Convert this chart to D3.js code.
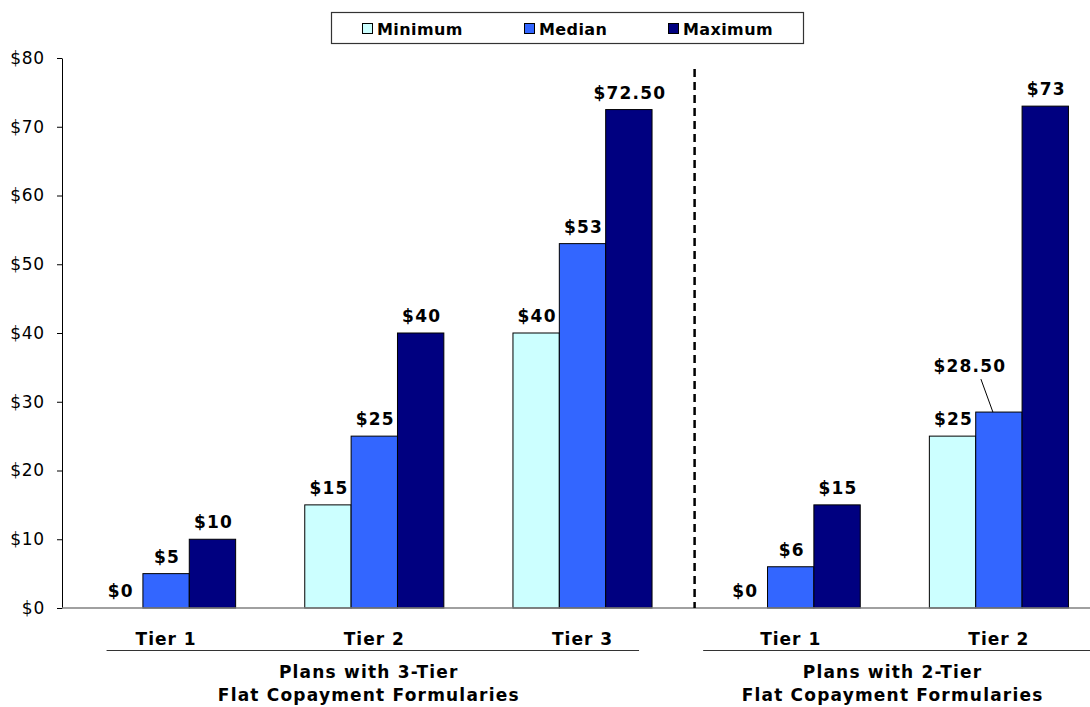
<!DOCTYPE html>
<html>
<head>
<meta charset="utf-8">
<script src="https://cdn.jsdelivr.net/npm/d3@7"></script>
<style>
  html, body { margin: 0; padding: 0; background: #fff; }
  svg { display: block; font-family: "DejaVu Sans", Verdana, sans-serif; }
</style>
</head>
<body>
<svg id="chart" width="1090" height="707"></svg>
<script>
// Copayment tiers (3-tier plans first, then 2-tier plans)
const tiers = ["Tier 1", "Tier 2", "Tier 3", "Tier 1", "Tier 2"];
const seriesNames = ["Minimum", "Median", "Maximum"];
const minimum = [0, 15, 40, 0, 25];
const median = [5, 25, 53, 6, 28.5];
const maximum = [10, 40, 72.5, 15, 73];
const yTicks = [0, 10, 20, 30, 40, 50, 60, 70, 80];
const planGroups = [
  { lines: ["Plans with 3-Tier", "Flat Copayment Formularies"], first: 0, last: 2 },
  { lines: ["Plans with 2-Tier", "Flat Copayment Formularies"], first: 3, last: 4 }
];
const colors = ["#CCFFFF", "#3366FF", "#000080"];

const svg = d3.select("#chart");
const W = 1090;
const plotLeft = 62, plotRight = 1103, plotTop = 58, plotBottom = 608;

const x = d3.scaleBand()
  .domain(d3.range(tiers.length))
  .range([plotLeft, plotRight])
  .paddingInner(0.332)
  .paddingOuter(0.166);

const xs = d3.scaleBand()
  .domain(d3.range(seriesNames.length))
  .range([0, x.bandwidth()]);

const y = d3.scaleLinear().domain([0, 80]).range([plotBottom, plotTop]);

const seriesValues = [minimum, median, maximum];
const fmt = v => Number.isInteger(v) ? "$" + v : "$" + v.toFixed(2);

// y axis
const yAxis = d3.axisLeft(y)
  .tickValues(yTicks)
  .tickFormat(d => "$" + d)
  .tickSize(5)
  .tickSizeOuter(0)
  .tickPadding(12);
const ya = svg.append("g").attr("transform", `translate(${plotLeft},0)`).call(yAxis);
ya.select(".domain").attr("stroke", "#000");
ya.selectAll(".tick line").attr("stroke", "#000");
ya.selectAll(".tick text")
  .attr("fill", "#000")
  .style("font-family", "'DejaVu Sans', Verdana, sans-serif")
  .style("font-size", "17px")
  .style("letter-spacing", "0.8px");

// bars
const bars = [];
tiers.forEach((t, i) => {
  seriesValues.forEach((vals, s) => {
    bars.push({ i, s, v: vals[i] });
  });
});

svg.append("g").selectAll("rect")
  .data(bars)
  .join("rect")
  .attr("x", d => x(d.i) + xs(d.s))
  .attr("y", d => y(d.v))
  .attr("width", xs.bandwidth())
  .attr("height", d => y(0) - y(d.v))
  .attr("fill", d => colors[d.s])
  .attr("stroke", "#000")
  .attr("stroke-width", 1);

// baseline
svg.append("line")
  .attr("x1", plotLeft).attr("x2", W)
  .attr("y1", y(0)).attr("y2", y(0))
  .attr("stroke", "#808080").attr("stroke-width", 1.5);

// value labels; the Tier 2 median of 2-tier plans sits up-left with a leader line
const lbl = svg.append("g")
  .style("font-weight", "bold")
  .style("font-size", "17px")
  .style("letter-spacing", "1.2px")
  .attr("text-anchor", "middle");

bars.forEach(d => {
  const cx = x(d.i) + xs(d.s) + xs.bandwidth() / 2;
  const ty = y(d.v);
  if (d.i === 4 && d.s === 1) {
    const lx = cx - 29, ly = ty - 40;
    lbl.append("text").attr("x", lx).attr("y", ly).text(fmt(d.v));
    svg.append("line")
      .attr("x1", cx - 18).attr("y1", ty - 33)
      .attr("x2", cx - 6).attr("y2", ty)
      .attr("stroke", "#000").attr("stroke-width", 1);
  } else {
    lbl.append("text").attr("x", cx + 1).attr("y", ty - 11).text(fmt(d.v));
  }
});

// divider between plan types
const divX = x(3) - (x.step() - x.bandwidth()) / 2 + 8;
svg.append("line")
  .attr("x1", divX).attr("x2", divX)
  .attr("y1", 69).attr("y2", plotBottom)
  .attr("stroke", "#000").attr("stroke-width", 2.5)
  .attr("stroke-dasharray", "8,5");

// tier labels
svg.append("g").selectAll("text")
  .data(tiers)
  .join("text")
  .attr("x", (d, i) => x(i) + x.bandwidth() / 2)
  .attr("y", 645)
  .attr("text-anchor", "middle")
  .style("font-weight", "bold")
  .style("font-size", "17px")
  .style("letter-spacing", "1px")
  .text(d => d);

// plan group rules and labels
planGroups.forEach((g, gi) => {
  const x1 = gi === 0 ? x(g.first) + 10 : x(g.first) - 18;
  const x2 = gi === 0 ? x(g.last) + x.bandwidth() - 13 : W;
  svg.append("line")
    .attr("x1", x1).attr("x2", x2)
    .attr("y1", 650.5).attr("y2", 650.5)
    .attr("stroke", "#333").attr("stroke-width", 1.2);
  const t = svg.append("text")
    .attr("text-anchor", "middle")
    .style("font-weight", "bold")
    .style("font-size", "17px")
    .style("letter-spacing", "1.2px");
  g.lines.forEach((line, li) => {
    t.append("tspan")
      .attr("x", (x1 + x2) / 2 - 4)
      .attr("y", 678 + li * 23)
      .text(line);
  });
});

// legend
const legend = svg.append("g");
legend.append("rect")
  .attr("x", 331.5).attr("y", 12.5)
  .attr("width", 472).attr("height", 31)
  .attr("fill", "#fff").attr("stroke", "#333").attr("stroke-width", 1.2);
const legX = [362, 524, 668];
seriesNames.forEach((name, s) => {
  legend.append("rect")
    .attr("x", legX[s] + 0.5).attr("y", 23.5)
    .attr("width", 10).attr("height", 10)
    .attr("fill", colors[s]).attr("stroke", "#000");
  legend.append("text")
    .attr("x", legX[s] + 15).attr("y", 35)
    .style("font-weight", "bold")
    .style("font-size", "16px")
    .style("letter-spacing", "0.4px")
    .text(name);
});
</script>
</body>
</html>
